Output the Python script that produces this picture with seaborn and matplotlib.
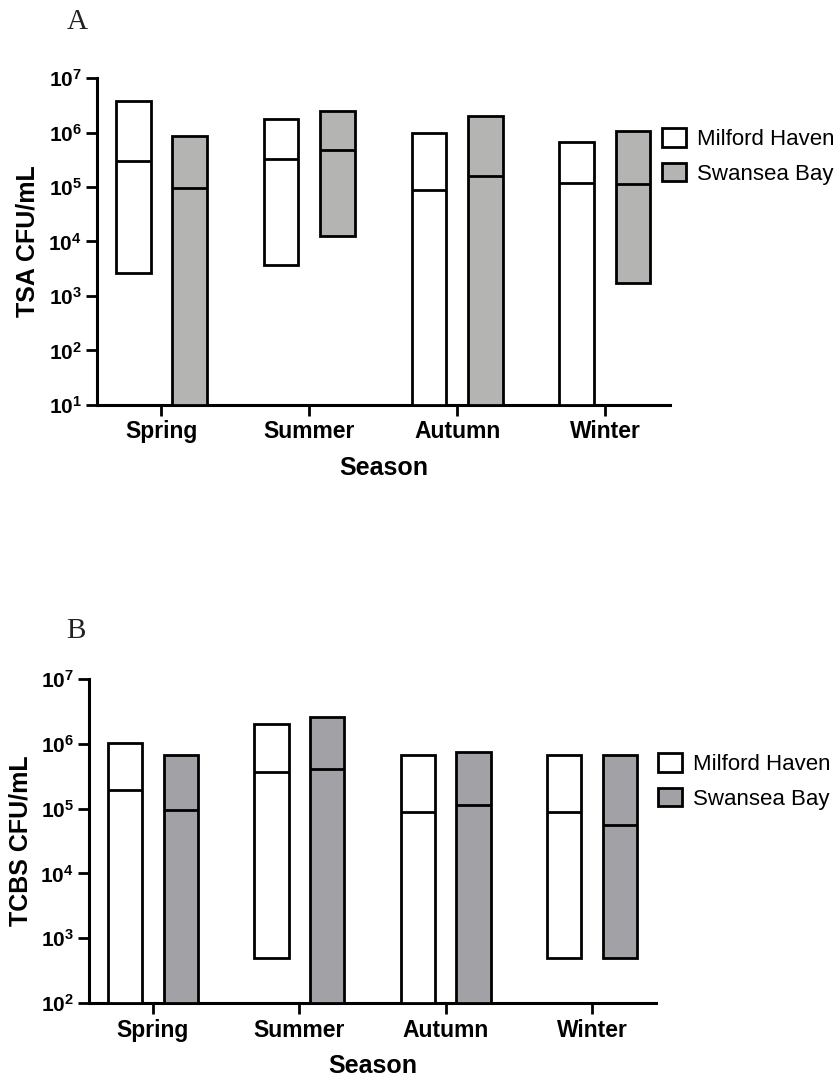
import numpy as np
import pandas as pd
import matplotlib
matplotlib.use("Agg")
import matplotlib.pyplot as plt
from matplotlib.patches import Patch
import seaborn as sns

# ---------------- data ----------------
seasons = ["Spring", "Summer", "Autumn", "Winter"]
sites = ["Milford Haven", "Swansea Bay"]

# Panel A (TSA)
tsa_mh_min = [2.6e3, 3.7e3, 10, 10]
tsa_mh_med = [3.0e5, 3.2e5, 8.8e4, 1.2e5]
tsa_mh_max = [3.8e6, 1.8e6, 1.0e6, 6.7e5]
tsa_sb_min = [10, 1.25e4, 10, 1.7e3]
tsa_sb_med = [9.6e4, 4.8e5, 1.6e5, 1.15e5]
tsa_sb_max = [8.7e5, 2.5e6, 2.0e6, 1.07e6]

# Panel B (TCBS)
tcbs_mh_min = [100, 5.0e2, 100, 5.0e2]
tcbs_mh_med = [1.9e5, 3.7e5, 8.7e4, 8.7e4]
tcbs_mh_max = [1.03e6, 2.0e6, 6.6e5, 6.6e5]
tcbs_sb_min = [100, 100, 100, 5.0e2]
tcbs_sb_med = [9.6e4, 4.0e5, 1.15e5, 5.5e4]
tcbs_sb_max = [6.6e5, 2.6e6, 7.4e5, 6.6e5]

tsa_ticks = [1e1, 1e2, 1e3, 1e4, 1e5, 1e6, 1e7]
tsa_ticklabels = [r"$\mathrm{10^{1}}$", r"$\mathrm{10^{2}}$", r"$\mathrm{10^{3}}$",
                  r"$\mathrm{10^{4}}$", r"$\mathrm{10^{5}}$", r"$\mathrm{10^{6}}$",
                  r"$\mathrm{10^{7}}$"]
tcbs_ticks = [1e2, 1e3, 1e4, 1e5, 1e6, 1e7]
tcbs_ticklabels = [r"$\mathrm{10^{2}}$", r"$\mathrm{10^{3}}$", r"$\mathrm{10^{4}}$",
                   r"$\mathrm{10^{5}}$", r"$\mathrm{10^{6}}$", r"$\mathrm{10^{7}}$"]

# ---------------- style ----------------
sns.set_theme(style="ticks")
plt.rcParams["font.family"] = ["Liberation Sans", "DejaVu Sans"]
plt.rcParams["mathtext.fontset"] = "custom"
plt.rcParams["mathtext.rm"] = "Liberation Sans:bold"
plt.rcParams["mathtext.it"] = "Liberation Sans:bold"
plt.rcParams["mathtext.bf"] = "Liberation Sans:bold"
for key in ["text.color", "axes.labelcolor", "xtick.color", "ytick.color",
            "axes.edgecolor"]:
    plt.rcParams[key] = "black"

fig = plt.figure(figsize=(8.39, 10.79), dpi=100)

BAR_W = 0.235
OFFS = [-0.19, 0.19]
LW = 2.0


def panel(ax, mins, meds, maxs, fills, ylabel, ticks, ticklabels, ylim):
    pos = np.arange(len(seasons))
    ax.set_yscale("log")
    for k, site in enumerate(sites):
        lo = np.array(mins[k], dtype=float)
        hi = np.array(maxs[k], dtype=float)
        df = pd.DataFrame({"x": pos + OFFS[k], "h": hi - lo})
        sns.barplot(data=df, x="x", y="h", native_scale=True, width=BAR_W,
                    bottom=lo, color=fills[k], saturation=1,
                    edgecolor="black", linewidth=LW, ax=ax, zorder=3)
        ax.hlines(meds[k], pos + OFFS[k] - BAR_W / 2, pos + OFFS[k] + BAR_W / 2,
                  color="black", linewidth=LW, zorder=4)
    ax.set_ylim(*ylim)
    ax.set_xlim(-0.435, 3.44)
    ax.set_xticks(pos)
    ax.set_xticklabels(seasons, fontsize=16.5, fontweight="bold")
    ax.set_yticks(ticks)
    ax.set_yticklabels(ticklabels, fontsize=15)
    ax.yaxis.set_minor_locator(matplotlib.ticker.NullLocator())
    ax.set_xlabel("Season", fontsize=18, fontweight="bold", labelpad=9)
    ax.set_ylabel(ylabel, fontsize=18, fontweight="bold", labelpad=6)
    for s in ["top", "right"]:
        ax.spines[s].set_visible(False)
    for s in ["left", "bottom"]:
        ax.spines[s].set_linewidth(2.2)
        ax.spines[s].set_color("black")
    ax.tick_params(axis="both", length=8, width=2.0, color="black", pad=3)
    ax.set_facecolor("white")


# Panel A
axA = fig.add_axes([0.1156, 0.6247, 0.683, 0.303])
fillA = ["white", "#b4b4b2"]
panel(axA, [tsa_mh_min, tsa_sb_min], [tsa_mh_med, tsa_sb_med],
      [tsa_mh_max, tsa_sb_max], fillA, "TSA CFU/mL",
      tsa_ticks, tsa_ticklabels, (1e1, 1e7))

# Panel B
axB = fig.add_axes([0.1064, 0.0702, 0.676, 0.3008])
fillB = ["white", "#a2a2a6"]
panel(axB, [tcbs_mh_min, tcbs_sb_min], [tcbs_mh_med, tcbs_sb_med],
      [tcbs_mh_max, tcbs_sb_max], fillB, "TCBS CFU/mL",
      tcbs_ticks, tcbs_ticklabels, (1e2, 1e7))

for fills, anchor in [(fillA, (0.789, 0.881)), (fillB, (0.784, 0.302))]:
    handles = [Patch(facecolor=fills[k], edgecolor="black", linewidth=LW, label=sites[k])
               for k in range(2)]
    fig.legend(handles=handles, loc="upper left", bbox_to_anchor=anchor,
               bbox_transform=fig.transFigure, frameon=False, fontsize=16,
               handlelength=1.07, handleheight=0.9, handletextpad=0.5,
               labelspacing=0.57, borderpad=0, borderaxespad=0)

fig.text(0.079, 0.980, "A", fontsize=21, family=["Liberation Serif"], color="#222222",
         ha="left", va="center")
fig.text(0.079, 0.415, "B", fontsize=21, family=["Liberation Serif"], color="#222222",
         ha="left", va="center")

fig.savefig("out.png", dpi=100, facecolor="white")
